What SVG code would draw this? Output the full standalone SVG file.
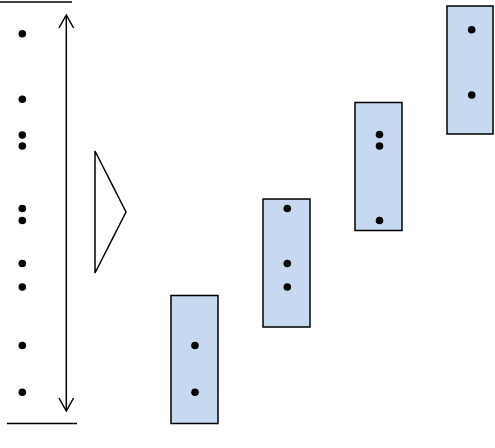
<svg xmlns="http://www.w3.org/2000/svg" width="495" height="448" viewBox="0 0 495 448">
<style>
.box{fill:#c6d9f0;stroke:#000;stroke-width:1.5}
.dot{fill:#000}
.ln{stroke:#000;stroke-width:1.5;fill:none}
</style>
<rect width="495" height="448" fill="#fff"/>
<g id="axis">
<line class="ln" x1="0" y1="2" x2="72" y2="2"/>
<line class="ln" x1="7" y1="423.5" x2="77" y2="423.5"/>
</g>
<g id="connectors">
<line class="ln" x1="66.3" y1="16" x2="66.3" y2="411"/>
<polyline class="ln" points="59,28 66.3,15 73.6,28"/>
<polyline class="ln" points="59,398 66.3,411 73.6,398"/>
</g>
<g id="left-dots">
<circle class="dot" cx="22.3" cy="33.7" r="3.8"/>
<circle class="dot" cx="22.3" cy="99.3" r="3.8"/>
<circle class="dot" cx="22.3" cy="135" r="3.8"/>
<circle class="dot" cx="22.3" cy="146" r="3.8"/>
<circle class="dot" cx="22.3" cy="208.5" r="3.8"/>
<circle class="dot" cx="22.3" cy="220.5" r="3.8"/>
<circle class="dot" cx="22.3" cy="263.5" r="3.8"/>
<circle class="dot" cx="22.3" cy="287" r="3.8"/>
<circle class="dot" cx="22.3" cy="345.5" r="3.8"/>
<circle class="dot" cx="22.3" cy="392.3" r="3.8"/>
</g>
<g id="triangle">
<polygon class="ln" points="95,151 126,212 95,273" fill="#fff"/>
</g>
<g id="box1">
<rect class="box" x="171" y="295.5" width="47" height="128"/>
<circle class="dot" cx="195" cy="345.5" r="3.8"/>
<circle class="dot" cx="195" cy="392.3" r="3.8"/>
</g>
<g id="box2">
<rect class="box" x="263" y="199" width="47" height="128"/>
<circle class="dot" cx="287.3" cy="208.5" r="3.8"/>
<circle class="dot" cx="287.3" cy="263.5" r="3.8"/>
<circle class="dot" cx="287.3" cy="287" r="3.8"/>
</g>
<g id="box3">
<rect class="box" x="355" y="102.5" width="47" height="128"/>
<circle class="dot" cx="379.5" cy="134.5" r="3.8"/>
<circle class="dot" cx="379.5" cy="146" r="3.8"/>
<circle class="dot" cx="379.5" cy="220.5" r="3.8"/>
</g>
<g id="box4">
<rect class="box" x="447" y="6" width="46" height="128"/>
<circle class="dot" cx="471.7" cy="29.7" r="3.8"/>
<circle class="dot" cx="471.7" cy="95" r="3.8"/>
</g>
</svg>
